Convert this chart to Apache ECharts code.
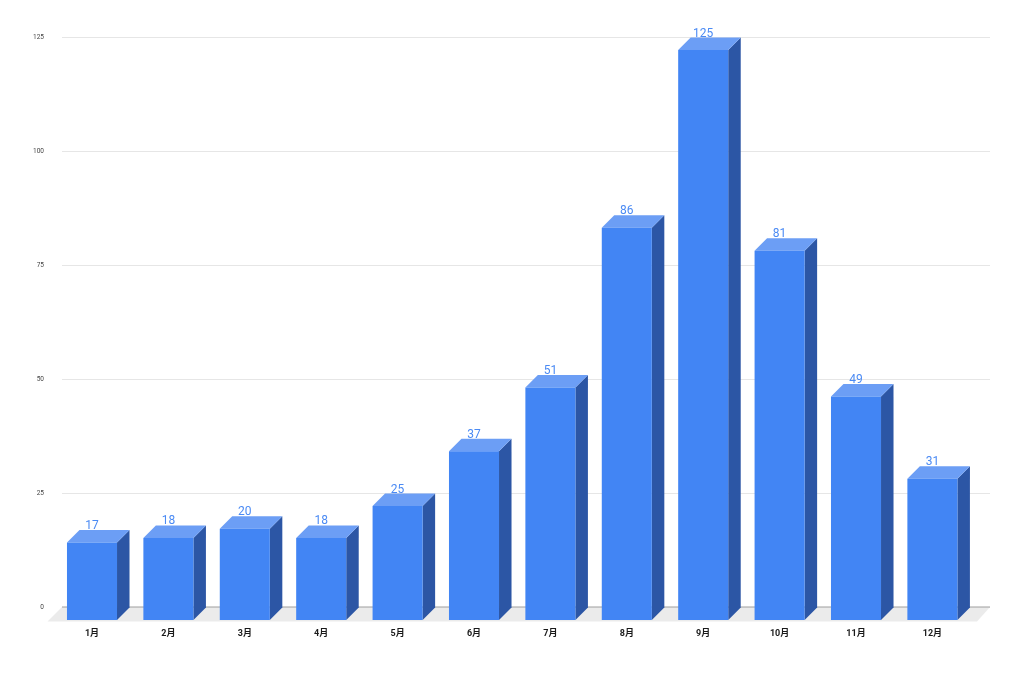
<!DOCTYPE html>
<html>
<head>
<meta charset="utf-8">
<script src="https://cdn.jsdelivr.net/npm/echarts@6/dist/echarts.min.js"></script>
<style>
html,body{margin:0;padding:0;background:#fff;}
#chart{width:1024px;height:673px;}
</style>
</head>
<body>
<div id="chart"></div>
<script>
var categories = ['1月','2月','3月','4月','5月','6月','7月','8月','9月','10月','11月','12月'];
var values = [17, 18, 20, 18, 25, 37, 51, 86, 125, 81, 49, 31];
var yTicks = [0, 25, 50, 75, 100, 125];

var DEPTH = 12.5;
var FRONT = '#4285F4', TOP = '#6c9ef5', SIDE = '#2c56a5', LABEL = '#4a8af4';

var chart = echarts.init(document.getElementById('chart'), null, {renderer: 'canvas'});

var option = {
  animation: false,
  backgroundColor: '#ffffff',
  grid: [
    {left: 62, right: 34, top: 37, bottom: 66},
    {left: 53.8, right: 53.4, top: 50, bottom: 53}
  ],
  xAxis: [
    {gridIndex: 0, type: 'value', min: 0, max: 1, show: false},
    {gridIndex: 1, type: 'category', data: categories,
     axisLine: {show: false}, axisTick: {show: false},
     axisLabel: {color: '#1a1a1a', fontSize: 9, fontWeight: 'bold', margin: 9, fontFamily: 'Roboto, "Noto Sans CJK SC", sans-serif'}}
  ],
  yAxis: [
    {gridIndex: 0, type: 'value', min: yTicks[0], max: yTicks[yTicks.length-1], interval: 25,
     axisLine: {show: false}, axisTick: {show: false},
     axisLabel: {color: '#444', fontSize: 6.5, margin: 18, fontFamily: 'Roboto, sans-serif'},
     splitLine: {lineStyle: {color: '#e6e6e6', width: 1}}},
    {gridIndex: 1, type: 'value', min: 0, max: 125, show: false, splitLine: {show: false}}
  ],
  series: [
    {
      type: 'custom', xAxisIndex: 0, yAxisIndex: 0, z: 1,
      data: [[0, 0]],
      renderItem: function (params, api) {
        var a = api.coord([0, 0]);
        var b = api.coord([1, 0]);
        var d = 14.5;
        return {
          type: 'group',
          children: [
            {type: 'polygon', shape: {points: [[a[0], a[1]], [b[0], b[1]], [b[0]-d+1.5, b[1]+d], [a[0]-d, a[1]+d]]},
             style: {fill: '#ebebeb'}},
            {type: 'line', shape: {x1: a[0], y1: a[1], x2: b[0], y2: b[1]}, style: {stroke: '#9e9e9e', lineWidth: 1}}
          ]
        };
      }
    },
    {
      type: 'custom', xAxisIndex: 1, yAxisIndex: 1, z: 5,
      data: values.map(function (v, i) { return [i, v]; }),
      renderItem: function (params, api) {
        var i = api.value(0), v = api.value(1);
        var p0 = api.coord([i, 0]);
        var p1 = api.coord([i, v]);
        var w = api.size([1, 0])[0] * 0.655;
        var x0 = p0[0] - w / 2, x1 = x0 + w;
        var yb = p0[1], yt = p1[1], d = DEPTH;
        return {
          type: 'group',
          children: [
            {type: 'polygon', shape: {points: [[x1, yt], [x1+d, yt-d], [x1+d, yb-d], [x1, yb]]}, style: {fill: SIDE}},
            {type: 'polygon', shape: {points: [[x0, yt], [x0+d, yt-d], [x1+d, yt-d], [x1, yt]]}, style: {fill: TOP}},
            {type: 'rect', shape: {x: x0, y: yt, width: w, height: yb - yt}, style: {fill: FRONT}},
            {type: 'text', x: p0[0], y: yt - d + 2,
             style: {text: String(v), fill: LABEL, fontSize: 12, fontFamily: 'Roboto, sans-serif', align: 'center', verticalAlign: 'bottom'}}
          ]
        };
      }
    }
  ]
};
chart.setOption(option);
</script>
</body>
</html>
